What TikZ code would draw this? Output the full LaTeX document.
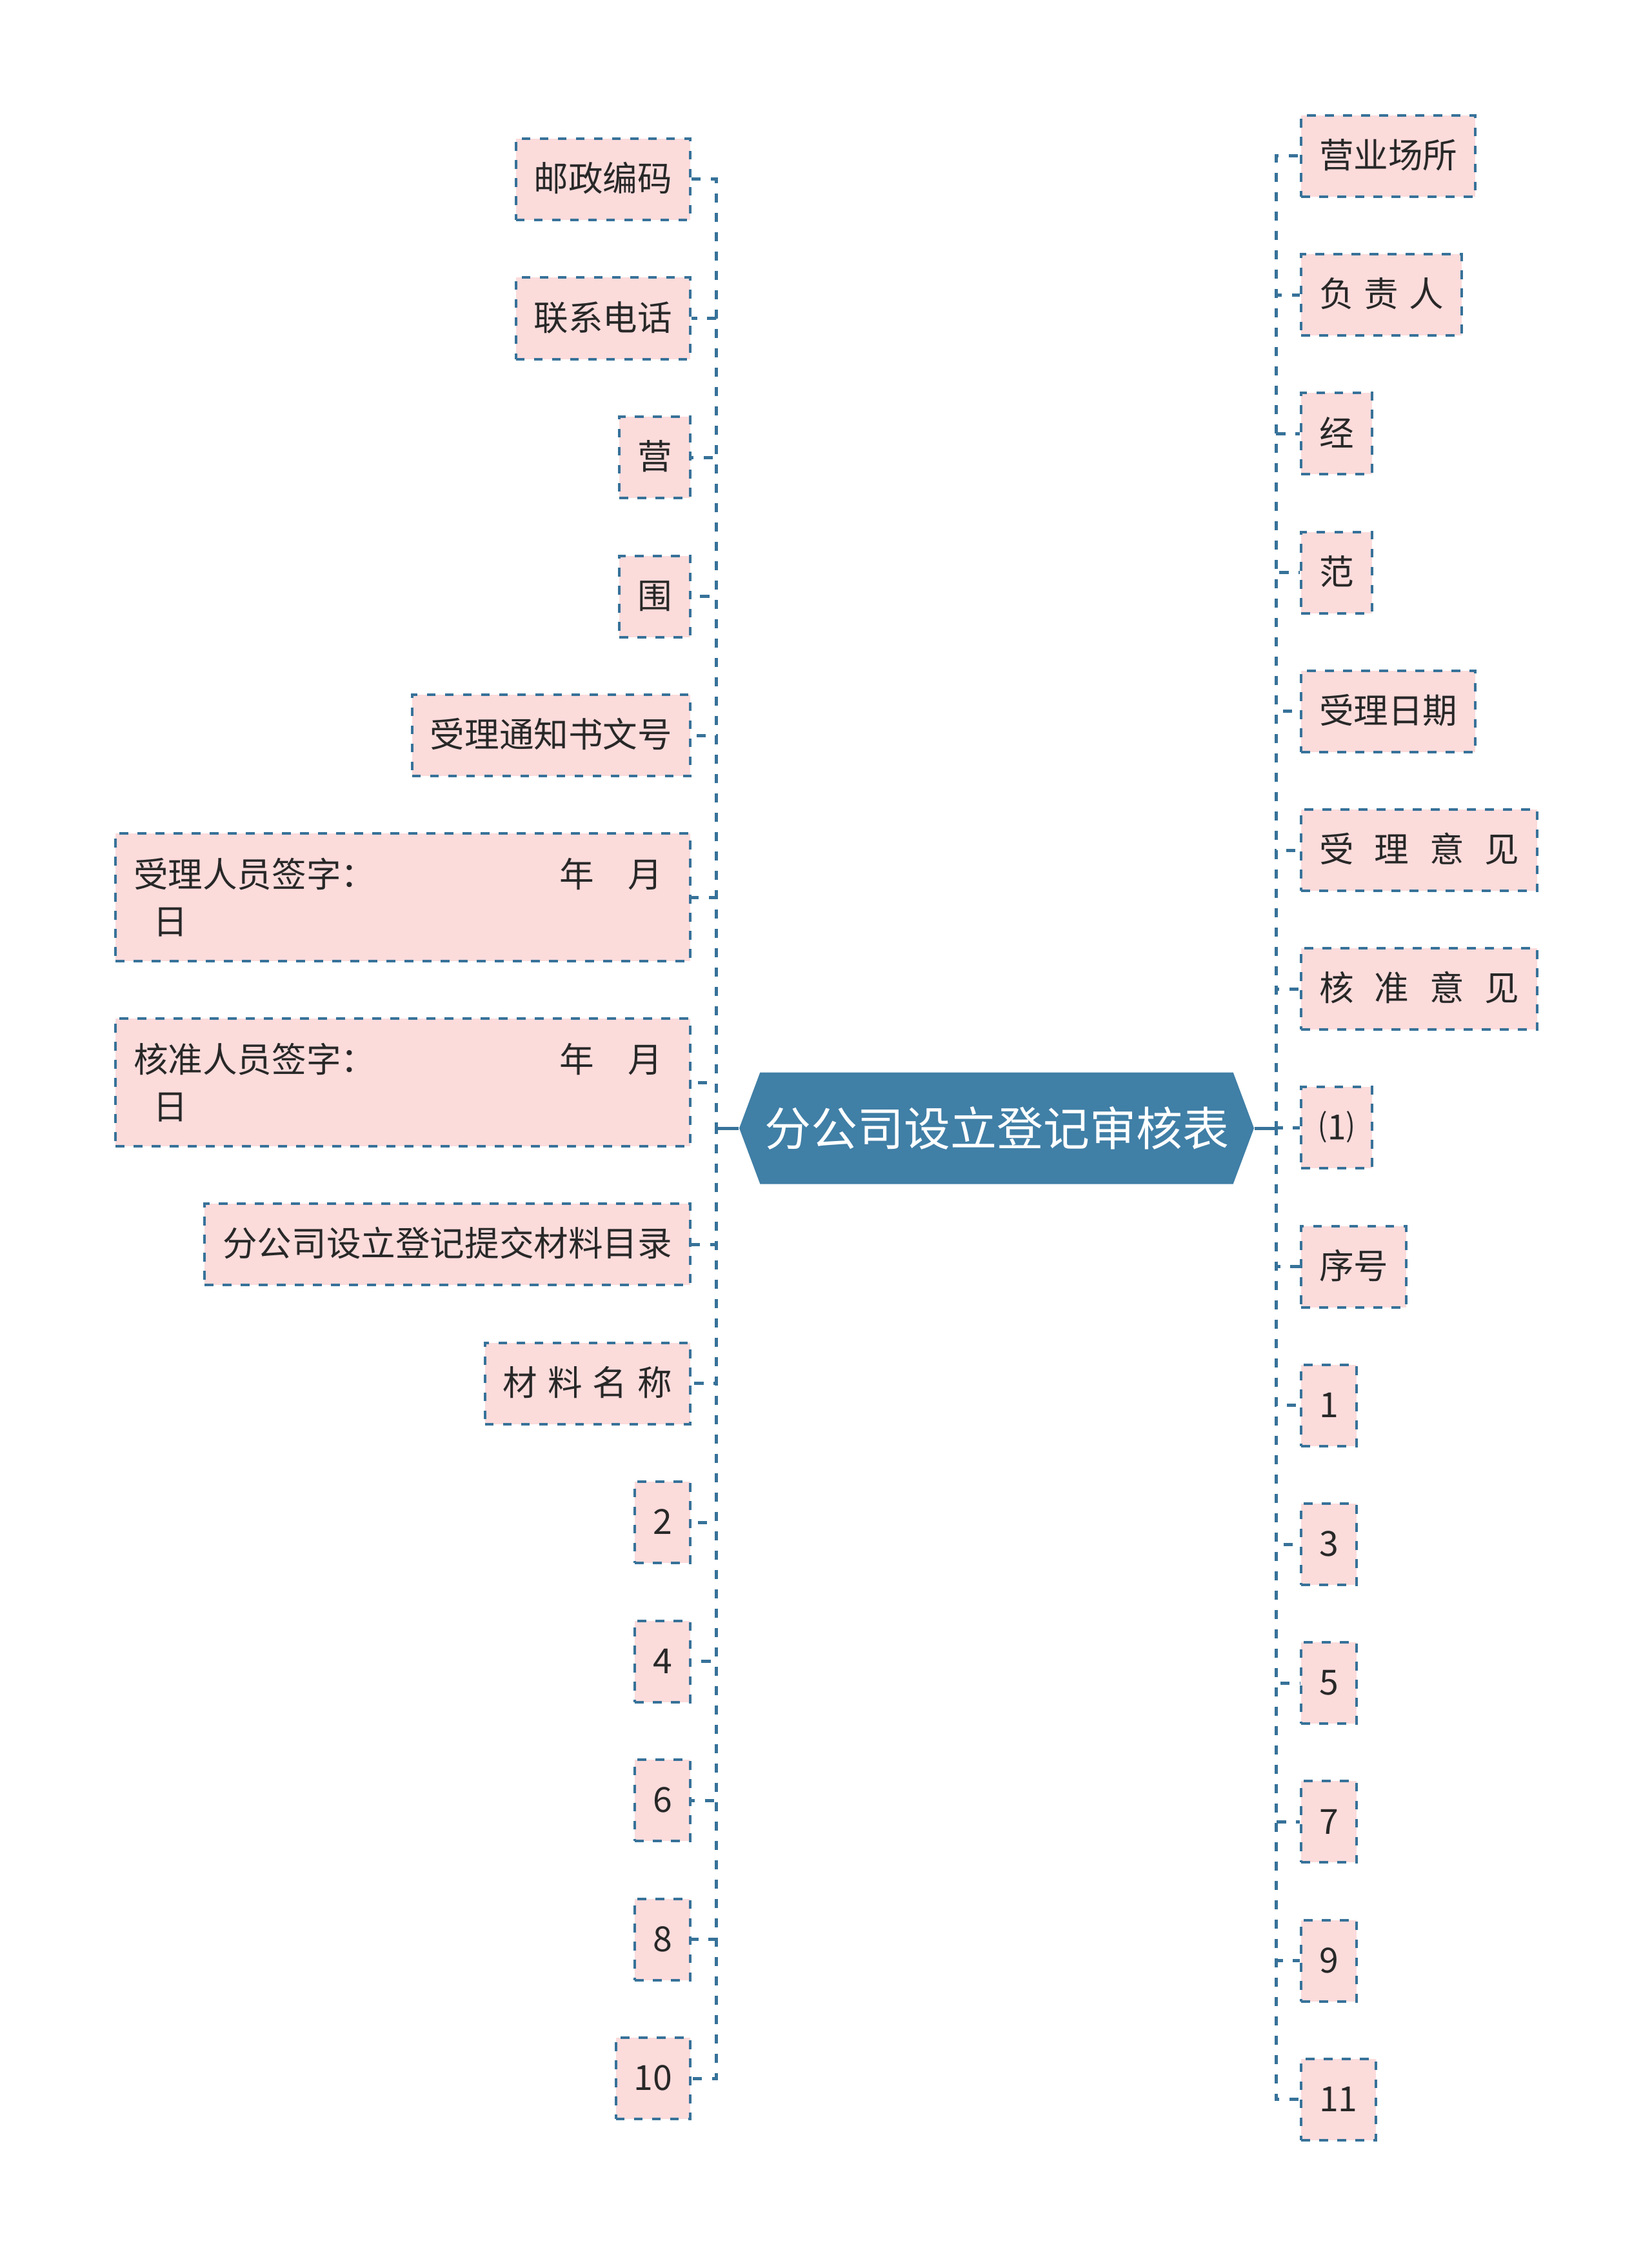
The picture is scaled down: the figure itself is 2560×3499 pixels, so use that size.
\documentclass[tikz,border=0pt]{standalone}
\usepackage{fontspec}
\setmainfont{Noto Sans CJK SC}
\usetikzlibrary{shapes.symbols}
\definecolor{linkblue}{RGB}{55,114,153}
\definecolor{hubblue}{RGB}{64,127,166}
\definecolor{leafpink}{RGB}{252,219,219}
\definecolor{inkgray}{RGB}{40,40,40}
\newcommand{\narrowgap}{\hspace{4pt}}
\newcommand{\widegap}{\hspace{8pt}}
\tikzset{
  hub/.style={signal, signal to=west and east, signal pointer angle=139,
    fill=hubblue, text=white, font=\fontsize{18pt}{22pt}\selectfont,
    minimum width=199.5pt, minimum height=43.25pt, inner sep=0pt},
  leaf/.style={draw=linkblue, fill=leafpink, line width=1pt,
    dash pattern=on 3.4pt off 3.6pt, text=inkgray,
    font=\fontsize{13.4pt}{18.25pt}\selectfont, inner xsep=7pt, inner ysep=0pt},
  oneline/.style={leaf, minimum height=31.5pt, text height=11.3pt, text depth=2pt},
  leftleaf/.style={oneline, anchor=east},
  rightleaf/.style={oneline, anchor=west},
  wideleaf/.style={leaf, anchor=east, text width=208.75pt, align=left, minimum height=49.5pt},
  link/.style={draw=linkblue, line width=1.25pt, dash pattern=on 3.6pt off 3.9pt},
  stem/.style={draw=linkblue, line width=1.25pt}
}
\begin{document}
\begin{tikzpicture}[x=0.25pt, y=-0.25pt]
    \useasboundingbox (0,0) rectangle (2560,3499);
    \node[hub] (hub) at (1545,1749) {分公司设立登记审核表};
    \coordinate (trunkL) at (1110,1749);
    \coordinate (trunkR) at (1978,1749);
    % left branch
    \node[leftleaf] (postcode) at (1072,278) {邮政编码};
    \node[leftleaf] (phone) at (1072,493.5) {联系电话};
    \node[leftleaf] (ying) at (1072,709) {营};
    \node[leftleaf] (wei) at (1072,924.5) {围};
    \node[leftleaf] (noticeno) at (1072,1140) {受理通知书文号};
    \node[wideleaf] (acceptsign) at (1072,1391) {\makebox[208.75pt][l]{受理人员签字：\hfill 年\hspace{13pt}月\hspace{3.75pt}}\\\hspace*{7.5pt}日};
    \node[wideleaf] (approvesign) at (1072,1678) {\makebox[208.75pt][l]{核准人员签字：\hfill 年\hspace{13pt}月\hspace{3.75pt}}\\\hspace*{7.5pt}日};
    \node[leftleaf] (catalog) at (1072,1929) {分公司设立登记提交材料目录};
    \node[leftleaf] (matname) at (1072,2144.5) {材\narrowgap 料\narrowgap 名\narrowgap 称};
    \node[leftleaf] (n2) at (1072,2360) {2};
    \node[leftleaf] (n4) at (1072,2575.5) {4};
    \node[leftleaf] (n6) at (1072,2791) {6};
    \node[leftleaf] (n8) at (1072,3006.5) {8};
    \node[leftleaf] (n10) at (1072,3222) {10};
    % right branch
    \node[rightleaf] (venue) at (2015,242) {营业场所};
    \node[rightleaf] (manager) at (2015,457.2) {负\narrowgap 责\narrowgap 人};
    \node[rightleaf] (jing) at (2015,672.4) {经};
    \node[rightleaf] (fan) at (2015,887.6) {范};
    \node[rightleaf] (acceptdate) at (2015,1102.8) {受理日期};
    \node[rightleaf] (acceptview) at (2015,1318) {受\widegap 理\widegap 意\widegap 见};
    \node[rightleaf] (approveview) at (2015,1533.2) {核\widegap 准\widegap 意\widegap 见};
    \node[rightleaf] (item1) at (2015,1748.4) {⑴};
    \node[rightleaf] (serial) at (2015,1963.6) {序号};
    \node[rightleaf] (n1) at (2015,2178.8) {1};
    \node[rightleaf] (n3) at (2015,2394) {3};
    \node[rightleaf] (n5) at (2015,2609.2) {5};
    \node[rightleaf] (n7) at (2015,2824.4) {7};
    \node[rightleaf] (n9) at (2015,3039.6) {9};
    \node[rightleaf] (n11) at (2015,3254.8) {11};
    % connectors
    \draw[link] (hub.west) -- (trunkL) |- (postcode.east);
    \draw[link] (hub.west) -- (trunkL) |- (phone.east);
    \draw[link] (hub.west) -- (trunkL) |- (ying.east);
    \draw[link] (hub.west) -- (trunkL) |- (wei.east);
    \draw[link] (hub.west) -- (trunkL) |- (noticeno.east);
    \draw[link] (hub.west) -- (trunkL) |- (acceptsign.east);
    \draw[link] (hub.west) -- (trunkL) |- (approvesign.east);
    \draw[link] (hub.west) -- (trunkL) |- (catalog.east);
    \draw[link] (hub.west) -- (trunkL) |- (matname.east);
    \draw[link] (hub.west) -- (trunkL) |- (n2.east);
    \draw[link] (hub.west) -- (trunkL) |- (n4.east);
    \draw[link] (hub.west) -- (trunkL) |- (n6.east);
    \draw[link] (hub.west) -- (trunkL) |- (n8.east);
    \draw[link] (hub.west) -- (trunkL) |- (n10.east);
    \draw[link] (hub.east) -- (trunkR) |- (venue.west);
    \draw[link] (hub.east) -- (trunkR) |- (manager.west);
    \draw[link] (hub.east) -- (trunkR) |- (jing.west);
    \draw[link] (hub.east) -- (trunkR) |- (fan.west);
    \draw[link] (hub.east) -- (trunkR) |- (acceptdate.west);
    \draw[link] (hub.east) -- (trunkR) |- (acceptview.west);
    \draw[link] (hub.east) -- (trunkR) |- (approveview.west);
    \draw[link] (hub.east) -- (trunkR) |- (item1.west);
    \draw[link] (hub.east) -- (trunkR) |- (serial.west);
    \draw[link] (hub.east) -- (trunkR) |- (n1.west);
    \draw[link] (hub.east) -- (trunkR) |- (n3.west);
    \draw[link] (hub.east) -- (trunkR) |- (n5.west);
    \draw[link] (hub.east) -- (trunkR) |- (n7.west);
    \draw[link] (hub.east) -- (trunkR) |- (n9.west);
    \draw[link] (hub.east) -- (trunkR) |- (n11.west);
    \draw[stem] (hub.west) -- (trunkL);
    \draw[stem] (hub.east) -- (trunkR);
  \end{tikzpicture}
\end{document}
